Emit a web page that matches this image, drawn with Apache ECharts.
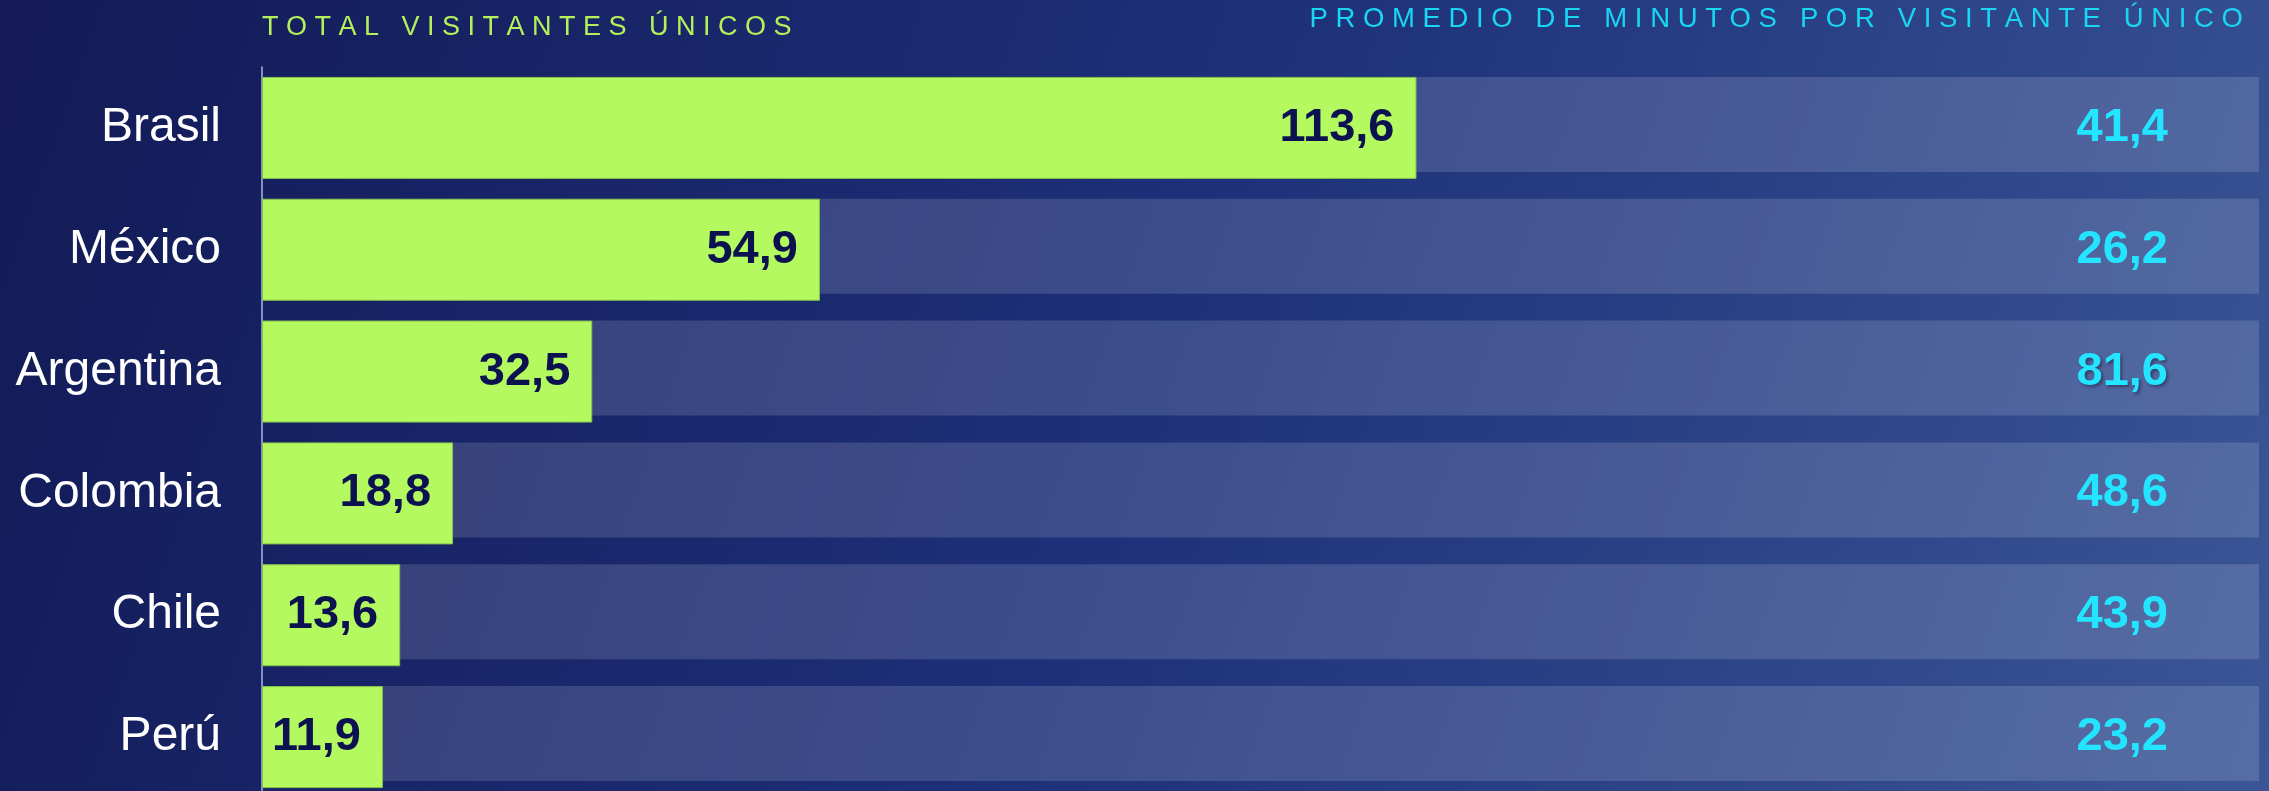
<!DOCTYPE html>
<html>
<head>
<meta charset="utf-8">
<script src="https://cdn.jsdelivr.net/npm/echarts@6/dist/echarts.min.js"></script>
<style>
  html, body { margin: 0; padding: 0; }
  #chart { width: 2269px; height: 791px; }
</style>
</head>
<body>
<div id="chart"></div>
<script>
const categories = ["Brasil", "México", "Argentina", "Colombia", "Chile", "Perú"];
const visitantes = [113.6, 54.9, 32.5, 18.8, 13.6, 11.9];
const minutos = [41.4, 26.2, 81.6, 48.6, 43.9, 23.2];
const titleLeft = "TOTAL VISITANTES ÚNICOS";
const titleRight = "PROMEDIO DE MINUTOS POR VISITANTE ÚNICO";

const font = "'Liberation Sans', Arial, sans-serif";
const spaced = s => s.split("").join(" ");
const comma = v => String(v).replace(".", ",");

let myChart = echarts.init(document.getElementById("chart"));
let option = {
  backgroundColor: {
    type: "linear", x: 0, y: 0, x2: 1, y2: 1,
    colorStops: [
      { offset: 0, color: "#131a56" },
      { offset: 0.5, color: "#1d3079" },
      { offset: 1, color: "#3b5696" }
    ]
  },
  graphic: [
    {
      type: "text", x: 262, y: 28,
      style: {
        text: spaced(titleLeft), fill: "#b4f05a",
        font: "27px " + font, align: "left", verticalAlign: "middle"
      }
    },
    {
      type: "text", x: 2243, y: 19,
      style: {
        text: spaced(titleRight), fill: "#19d6f2",
        font: "27.5px " + font, align: "right", verticalAlign: "middle"
      }
    }
  ],
  grid: { left: 262, right: 10, top: 67, height: 731, outerBoundsMode: "none" },
  xAxis: { type: "value", min: 0, max: 196.5, show: false },
  yAxis: [
    {
      type: "category",
      data: categories,
      inverse: true,
      axisTick: { show: false },
      axisLine: { lineStyle: { color: "#aab4e6", width: 1.5 } },
      axisLabel: { color: "#ffffff", fontSize: 48, fontFamily: font, margin: 41 }
    },
    {
      type: "category",
      data: categories,
      inverse: true,
      position: "right",
      axisTick: { show: false },
      axisLine: { show: false },
      axisLabel: {
        inside: true,
        margin: 91,
        color: "#00e1ff",
        fontSize: 47,
        fontWeight: "bold",
        fontFamily: font,
        formatter: (v, i) => (i === 2 ? "{s|" + comma(minutos[i]) + "}" : comma(minutos[i])),
        rich: {
          s: {
            color: "#00e1ff", fontSize: 47, fontWeight: "bold", fontFamily: font,
            textShadowColor: "rgba(0,0,40,0.6)", textShadowBlur: 3,
            textShadowOffsetX: 2, textShadowOffsetY: 2
          }
        }
      }
    }
  ],
  series: [
    {
      type: "bar",
      name: "fondo",
      data: visitantes,
      barWidth: 95,
      silent: true,
      itemStyle: { color: "rgba(0,0,0,0)" },
      showBackground: true,
      backgroundStyle: { color: "rgba(255,255,255,0.14)" }
    },
    {
      type: "bar",
      name: "visitantes",
      data: visitantes,
      barWidth: 102,
      barGap: "-100%",
      itemStyle: { color: "#b3f95f", borderColor: "#86c04c", borderWidth: 1 },
      label: {
        show: true,
        position: "insideRight",
        distance: 22,
        color: "#0c1150",
        fontSize: 47,
        fontWeight: "bold",
        fontFamily: font,
        formatter: p => comma(p.value)
      }
    }
  ]
};
myChart.setOption(option);
window.onresize = function() {
  myChart.resize();
};
</script>
</body>
</html>
